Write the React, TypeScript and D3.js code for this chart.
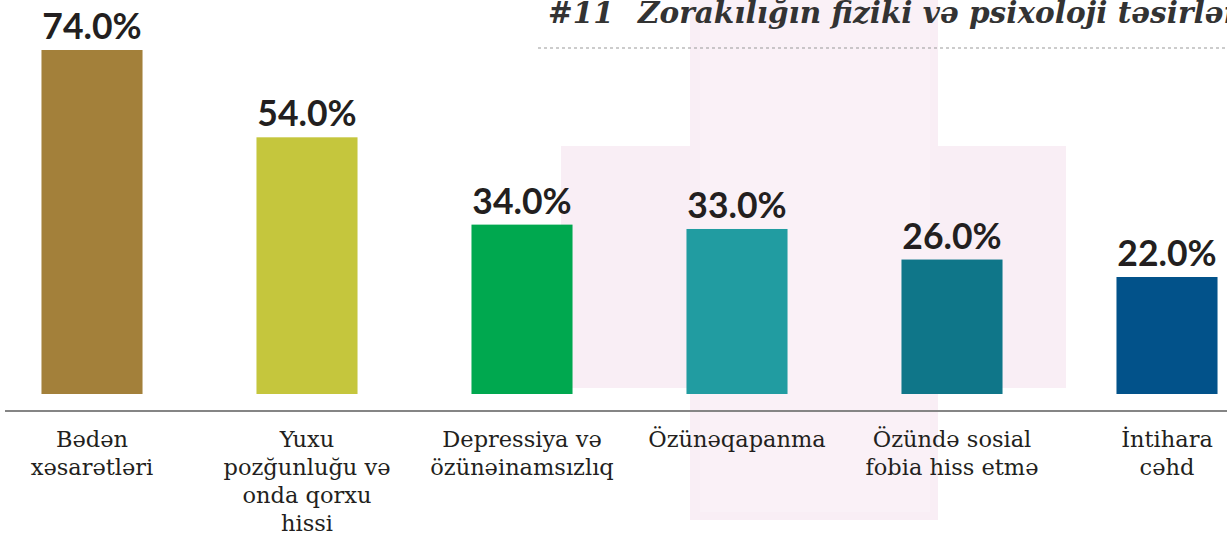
import { useEffect, useRef } from "react";
import * as d3 from "d3";

const categories = [
  "Bədən xəsarətləri",
  "Yuxu pozğunluğu və onda qorxu hissi",
  "Depressiya və özünəinamsızlıq",
  "Özünəqapanma",
  "Özündə sosial fobia hiss etmə",
  "İntihara cəhd",
];
const labelLines = [
  ["Bədən", "xəsarətləri"],
  ["Yuxu", "pozğunluğu və", "onda qorxu", "hissi"],
  ["Depressiya və", "özünəinamsızlıq"],
  ["Özünəqapanma"],
  ["Özündə sosial", "fobia hiss etmə"],
  ["İntihara", "cəhd"],
];
const values = [74, 54, 34, 33, 26, 22];
const colors = ["#a3803a", "#c5c63d", "#00a84f", "#219ca1", "#0f7689", "#02528a"];
const titleNum = "#11";
const titleText = "Zorakılığın fiziki və psixoloji təsirləri";

export default function App() {
  const ref = useRef<HTMLDivElement>(null);

  useEffect(() => {
    document.body.style.margin = "0";
    const width = 1227;
    const height = 535;

    const x = d3
      .scaleBand()
      .domain(categories)
      .range([-15.5, 1274.5])
      .paddingInner(0.53)
      .paddingOuter(0.265);
    const y = d3.scaleLinear().domain([-4.8, 74]).range([394, 50]);

    const root = d3.select(ref.current);
    root.selectAll("*").remove();
    const svg = root
      .append("svg")
      .attr("width", width)
      .attr("height", height)
      .style("display", "block")
      .style("background", "#fff");

    // faint pink cross in the background
    const cross = svg.append("g").attr("fill", "#f9eef5");
    cross.append("rect").attr("x", 690).attr("y", -10).attr("width", 248).attr("height", 530);
    cross.append("rect").attr("x", 561).attr("y", 146).attr("width", 505).attr("height", 242);
    cross
      .append("rect")
      .attr("x", 700)
      .attr("y", 0)
      .attr("width", 230)
      .attr("height", 512)
      .attr("fill", "#faf1f7");

    // title (cut at the top / right edge as in the source)
    const title = svg
      .append("text")
      .attr("y", 23)
      .attr("font-family", "DejaVu Serif")
      .attr("font-style", "italic")
      .attr("font-weight", "bold")
      .attr("font-size", 29.5)
      .attr("fill", "#333");
    title.append("tspan").attr("x", 548).text(titleNum);
    title.append("tspan").attr("x", 638).text(titleText);

    svg
      .append("line")
      .attr("x1", 538)
      .attr("x2", width)
      .attr("y1", 48)
      .attr("y2", 48)
      .attr("stroke", "#999")
      .attr("stroke-width", 1)
      .attr("stroke-dasharray", "3,3");

    // bars
    svg
      .append("g")
      .selectAll("rect")
      .data(values)
      .join("rect")
      .attr("x", (d, i) => x(categories[i])!)
      .attr("width", x.bandwidth())
      .attr("y", (d) => y(d))
      .attr("height", (d) => y.range()[0] - y(d))
      .attr("fill", (d, i) => colors[i]);

    // value labels
    svg
      .append("g")
      .selectAll("text")
      .data(values)
      .join("text")
      .attr("x", (d, i) => x(categories[i])! + x.bandwidth() / 2)
      .attr("y", (d) => y(d) - 11)
      .attr("text-anchor", "middle")
      .attr("font-family", "Lato")
      .attr("font-weight", "bold")
      .attr("font-size", 35.5)
      .attr("fill", "#231f20")
      .text((d) => d3.format(".1f")(d) + "%");

    // baseline
    svg
      .append("line")
      .attr("x1", 5)
      .attr("x2", width)
      .attr("y1", 411)
      .attr("y2", 411)
      .attr("stroke", "#858585")
      .attr("stroke-width", 2);

    // category labels
    const labels = svg
      .append("g")
      .attr("font-family", "DejaVu Serif")
      .attr("font-size", 22.5)
      .attr("fill", "#231f20")
      .attr("text-anchor", "middle")
      .selectAll("text")
      .data(categories)
      .join("text")
      .attr("x", (d) => x(d)! + x.bandwidth() / 2)
      .attr("y", 447);
    labels
      .selectAll("tspan")
      .data((d, i) => labelLines[i])
      .join("tspan")
      .attr("x", function () {
        return (this as any).parentNode.getAttribute("x");
      })
      .attr("dy", (d, i) => (i === 0 ? 0 : 28))
      .text((d) => d);
  }, []);

  return <div ref={ref} />;
}
